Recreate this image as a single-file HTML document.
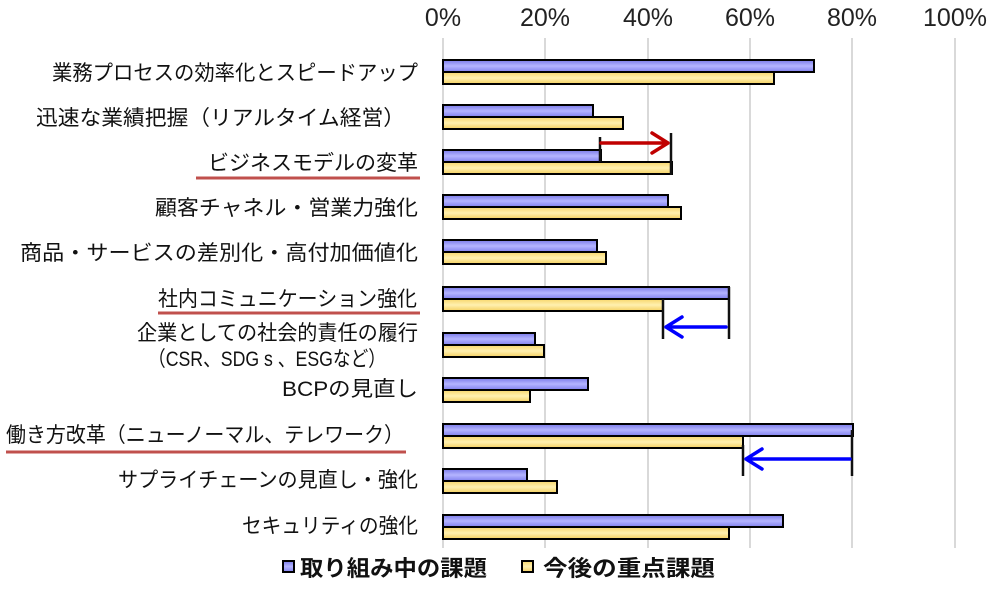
<!DOCTYPE html>
<html><head><meta charset="utf-8"><style>
html,body{margin:0;padding:0;background:#fff;}
svg text{font-family:"Liberation Sans","Noto Sans CJK JP",sans-serif;}
</style></head><body>
<svg width="1000" height="587" viewBox="0 0 1000 587" xmlns="http://www.w3.org/2000/svg">
<defs>
<linearGradient id="pg" x1="0" y1="0" x2="0" y2="1"><stop offset="0" stop-color="#7a7ae8"/><stop offset="0.5" stop-color="#b4b4ff"/><stop offset="1" stop-color="#8080ee"/></linearGradient>
<linearGradient id="yg" x1="0" y1="0" x2="0" y2="1"><stop offset="0" stop-color="#f7d66a"/><stop offset="0.5" stop-color="#fff0b0"/><stop offset="1" stop-color="#f4d060"/></linearGradient>
</defs>
<g stroke="#d9d9d9" stroke-width="2">
<line x1="545" y1="38" x2="545" y2="548"/><line x1="648" y1="38" x2="648" y2="548"/><line x1="750" y1="38" x2="750" y2="548"/><line x1="852" y1="38" x2="852" y2="548"/><line x1="955" y1="38" x2="955" y2="548"/>
</g>
<line x1="443" y1="38" x2="443" y2="548" stroke="#d9d9d9" stroke-width="2"/>
<g font-size="25" fill="#222" text-anchor="middle">
<text x="443" y="26">0%</text><text x="545" y="26">20%</text><text x="648" y="26">40%</text><text x="750" y="26">60%</text><text x="852" y="26">80%</text><text x="955" y="26">100%</text>
</g>
<g stroke="#000" stroke-width="2">
<rect x="443" y="60" width="371" height="12" fill="url(#pg)"/><rect x="443" y="72" width="331" height="12" fill="url(#yg)"/>
<rect x="443" y="105" width="150" height="12" fill="url(#pg)"/><rect x="443" y="117" width="180" height="12" fill="url(#yg)"/>
<rect x="443" y="150" width="158" height="12" fill="url(#pg)"/><rect x="443" y="162" width="229" height="12" fill="url(#yg)"/>
<rect x="443" y="195" width="225" height="12" fill="url(#pg)"/><rect x="443" y="207" width="238" height="12" fill="url(#yg)"/>
<rect x="443" y="240" width="154" height="12" fill="url(#pg)"/><rect x="443" y="252" width="163" height="12" fill="url(#yg)"/>
<rect x="443" y="287" width="286" height="12" fill="url(#pg)"/><rect x="443" y="299" width="220" height="12" fill="url(#yg)"/>
<rect x="443" y="333" width="92" height="12" fill="url(#pg)"/><rect x="443" y="345" width="101" height="12" fill="url(#yg)"/>
<rect x="443" y="378" width="145" height="12" fill="url(#pg)"/><rect x="443" y="390" width="87" height="12" fill="url(#yg)"/>
<rect x="443" y="424" width="410" height="12" fill="url(#pg)"/><rect x="443" y="436" width="300" height="12" fill="url(#yg)"/>
<rect x="443" y="469" width="84" height="12" fill="url(#pg)"/><rect x="443" y="481" width="114" height="12" fill="url(#yg)"/>
<rect x="443" y="515" width="340" height="12" fill="url(#pg)"/><rect x="443" y="527" width="286" height="12" fill="url(#yg)"/>
</g>
<g stroke="#111" stroke-width="2.5">
<line x1="600" y1="137" x2="600" y2="162"/><line x1="671" y1="133" x2="671" y2="175"/>
<line x1="663" y1="299" x2="663" y2="339"/><line x1="729" y1="287" x2="729" y2="339"/>
<line x1="743" y1="445" x2="743" y2="476"/><line x1="852" y1="430" x2="852" y2="476"/>
</g>
<g fill="none" stroke-width="3.5" stroke-linecap="round" stroke-linejoin="round">
<path d="M601 143 H668 M652 133 L668 143 L652 153" stroke="#c00000"/>
<path d="M726 327 H666 M682 317 L666 327 L682 337" stroke="#0000ff"/>
<path d="M850 459 H746 M762 449 L746 459 L762 469" stroke="#0000ff"/>
</g>
<g font-size="21" fill="#111" lengthAdjust="spacingAndGlyphs">
<text x="52" y="80" textLength="366" lengthAdjust="spacingAndGlyphs">業務プロセスの効率化とスピードアップ</text>
<text x="36" y="125" textLength="369" lengthAdjust="spacingAndGlyphs">迅速な業績把握（リアルタイム経営）</text>
<text x="208" y="170" textLength="210" lengthAdjust="spacingAndGlyphs">ビジネスモデルの変革</text>
<text x="155" y="215" textLength="263" lengthAdjust="spacingAndGlyphs">顧客チャネル・営業力強化</text>
<text x="20" y="260" textLength="398" lengthAdjust="spacingAndGlyphs">商品・サービスの差別化・高付加価値化</text>
<text x="158" y="306" textLength="259" lengthAdjust="spacingAndGlyphs">社内コミュニケーション強化</text>
<text x="137" y="340" textLength="281" lengthAdjust="spacingAndGlyphs">企業としての社会的責任の履行</text>
<text x="148" y="366" textLength="238" lengthAdjust="spacingAndGlyphs">（CSR、SDG s 、ESGなど）</text>
<text x="282" y="396" textLength="136" lengthAdjust="spacingAndGlyphs">BCPの見直し</text>
<text x="6" y="442" textLength="398" lengthAdjust="spacingAndGlyphs">働き方改革（ニューノーマル、テレワーク）</text>
<text x="118" y="487" textLength="300" lengthAdjust="spacingAndGlyphs">サプライチェーンの見直し・強化</text>
<text x="242" y="533" textLength="176" lengthAdjust="spacingAndGlyphs">セキュリティの強化</text>
</g>
<g stroke="#c0504d" stroke-width="3">
<line x1="196" y1="178" x2="420" y2="178"/>
<line x1="158" y1="313" x2="420" y2="313"/>
<line x1="6" y1="452" x2="406" y2="452"/>
</g>
<rect x="283" y="561" width="11" height="11" fill="url(#pg)" stroke="#000" stroke-width="2"/>
<text x="300" y="576" font-size="22" font-weight="bold" fill="#111" textLength="187" lengthAdjust="spacingAndGlyphs">取り組み中の課題</text>
<rect x="522" y="561" width="11" height="11" fill="url(#yg)" stroke="#000" stroke-width="2"/>
<text x="543" y="576" font-size="22" font-weight="bold" fill="#111" textLength="172" lengthAdjust="spacingAndGlyphs">今後の重点課題</text>
</svg>
</body></html>
